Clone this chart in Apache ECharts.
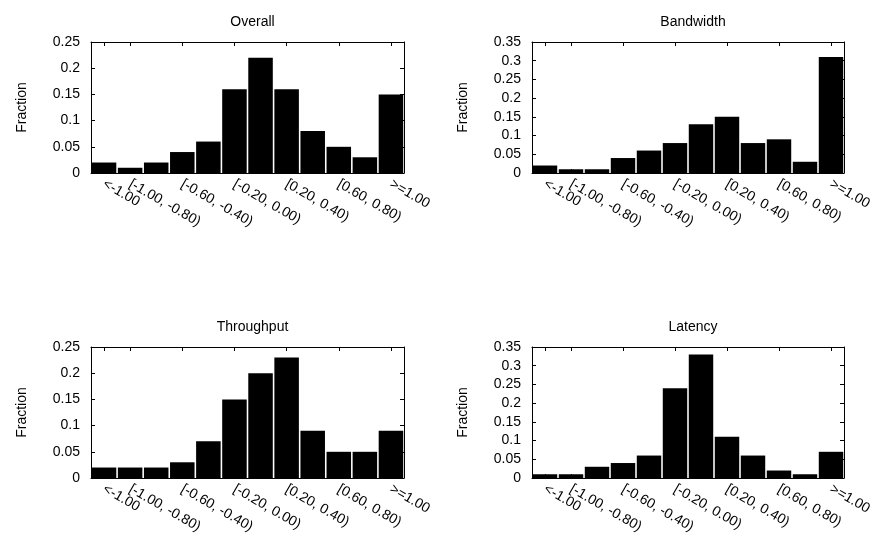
<!DOCTYPE html>
<html><head><meta charset="utf-8">
<script src="https://cdn.jsdelivr.net/npm/echarts@6/dist/echarts.min.js"></script>
<style>html,body{margin:0;padding:0;background:#fff}#c{width:876px;height:539px}</style>
</head><body><div id="c"></div><script>
const categories = ['<-1.00','[-1.00, -0.80)','[-0.80, -0.60)','[-0.60, -0.40)','[-0.40, -0.20)','[-0.20, 0.00)','[0.00, 0.20)','[0.20, 0.40)','[0.40, 0.60)','[0.60, 0.80)','[0.80, 1.00)','>=1.00'];
const shownLabelIdx = [0,1,3,5,7,9,11];
const titles = ['Overall','Bandwidth','Throughput','Latency'];
const overall    = [0.02,0.01,0.02,0.04,0.06,0.16,0.22,0.16,0.08,0.05,0.03,0.15];
const bandwidth  = [0.02,0.01,0.01,0.04,0.06,0.08,0.13,0.15,0.08,0.09,0.03,0.31];
const throughput = [0.02,0.02,0.02,0.03,0.07,0.15,0.20,0.23,0.09,0.05,0.05,0.09];
const latency    = [0.01,0.01,0.03,0.04,0.06,0.24,0.33,0.11,0.06,0.02,0.01,0.07];
const yMax = [0.25,0.35,0.25,0.35];
const yStep = 0.05;
const yName = 'Fraction';

const seriesData = [overall, bandwidth, throughput, latency];
const grids = [
  {left:91, top:42, width:313, height:131},
  {left:532, top:42, width:312, height:131},
  {left:91, top:347, width:313, height:131},
  {left:532, top:347, width:312, height:131}
];
const FONT = "'Liberation Sans', Arial, sans-serif";
const showIdx = (i) => shownLabelIdx.indexOf(i) >= 0;
const opt = {animation:false, backgroundColor:'#fff', title:[], grid:[], xAxis:[], yAxis:[], series:[]};
for (let p = 0; p < 4; p++) {
  const g = grids[p];
  opt.grid.push(Object.assign({containLabel:false, show:false}, g));
  opt.title.push({text:titles[p], left:g.left + g.width/2, top:g.top - 32, textAlign:'center',
    textStyle:{fontFamily:FONT, fontSize:14, fontWeight:'normal', color:'#000'}});
  opt.xAxis.push({type:'category', gridIndex:p, data:categories, position:'bottom',
    axisLine:{show:true, onZero:false, lineStyle:{color:'#000', width:1}},
    axisTick:{show:true, inside:true, length:4, alignWithLabel:true, interval:(i)=>showIdx(i), lineStyle:{color:'#000'}},
    axisLabel:{show:true, interval:0, hideOverlap:false,
      formatter:(v, i)=> showIdx(i) ? v : '',
      rotate:-30, margin:10, color:'#000', fontFamily:FONT, fontSize:14}});
  opt.xAxis.push({type:'category', gridIndex:p, data:categories, position:'top',
    axisLine:{show:true, onZero:false, lineStyle:{color:'#000', width:1}},
    axisTick:{show:true, inside:true, length:4, alignWithLabel:true, interval:(i)=>showIdx(i), lineStyle:{color:'#000'}},
    axisLabel:{show:false}});
  opt.yAxis.push({type:'value', gridIndex:p, min:0, max:yMax[p], interval:yStep, position:'left',
    name:yName, nameLocation:'middle', nameGap:62, nameRotate:90,
    nameTextStyle:{fontFamily:FONT, fontSize:14, color:'#000'},
    splitLine:{show:false},
    axisLine:{show:true, onZero:false, lineStyle:{color:'#000', width:1}},
    axisTick:{show:true, inside:true, length:4, lineStyle:{color:'#000'}},
    axisLabel:{color:'#000', fontFamily:FONT, fontSize:14, margin:11}});
  opt.yAxis.push({type:'value', gridIndex:p, min:0, max:yMax[p], interval:yStep, position:'right',
    splitLine:{show:false},
    axisLine:{show:true, onZero:false, lineStyle:{color:'#000', width:1}},
    axisTick:{show:true, inside:true, length:4, lineStyle:{color:'#000'}},
    axisLabel:{show:false}});
  opt.series.push({type:'bar', xAxisIndex:2*p, yAxisIndex:2*p, data:seriesData[p],
    barCategoryGap:'6%', itemStyle:{color:'#000'}});
}
const chart = echarts.init(document.getElementById('c'), null, {renderer:'canvas'});
chart.setOption(opt);
</script></body></html>
